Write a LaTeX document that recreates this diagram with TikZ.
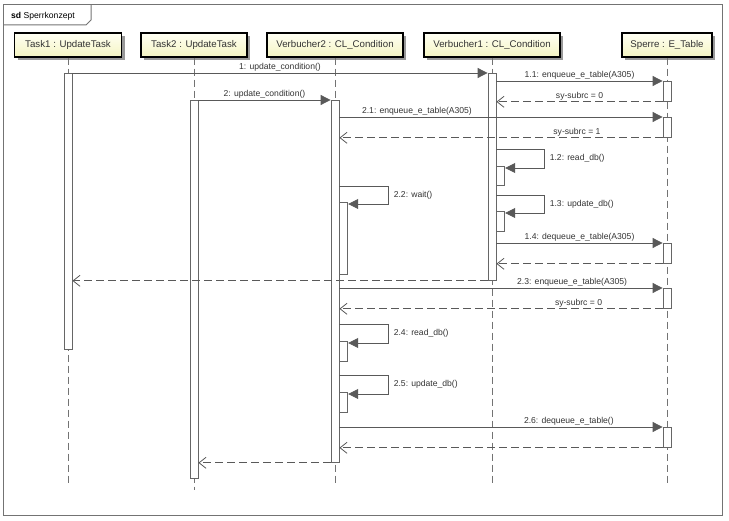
\documentclass[tikz,border=0pt]{standalone}
\usepackage{fontspec}
\setmainfont{Liberation Sans}
\usepackage{tikz}
\usetikzlibrary{arrows.meta}
\usetikzlibrary{positioning}
\usetikzlibrary{shadows}
\definecolor{headtop}{HTML}{FFFFF4}
\definecolor{headbot}{HTML}{F5F5C2}
\tikzset{msgfont/.style={font=\fontsize{8.6}{10}\selectfont, text=black!80}}

\begin{document}
\begin{tikzpicture}[x=1pt, y=-1pt,
      head/.style={draw=black, line width=1.5pt,
        top color=headtop, bottom color=headbot,
        minimum height=24pt, inner sep=0pt,
        font=\fontsize{9.7}{11}\selectfont, text=black!80,
        drop shadow={shadow xshift=3pt, shadow yshift=-3pt, fill=black!40, opacity=1}},
      lifeline/.style={draw=black!55, line width=0.9pt, dash pattern=on 7pt off 4pt},
      bar/.style={draw=black!60, fill=white, line width=0.8pt,
        minimum width=8pt, inner sep=0pt},
      call/.style={draw=black!65, line width=0.8pt,
        -{Triangle[length=10pt, width=10pt, fill=black!65]}},
      reply/.style={draw=black!65, line width=0.8pt, dash pattern=on 8pt off 4pt,
        -{Straight Barb[length=7pt, width=11pt]}},
      msg/.style={msgfont, above, inner sep=1.5pt},
      self/.style={msgfont, right, inner sep=0pt, xshift=5pt},
      frame/.style={draw=black!55, line width=1pt},
      on grid]

    \useasboundingbox (0,0) rectangle (729,521);

    % frame
    \draw[frame] (3,5) rectangle (722,515);
    \draw[frame] (3,25) -- (86,25) -- (91,20) -- (91,5);
    \node[msgfont, anchor=west, inner sep=0pt, text=black]
      (Title) at (11,16) {\textbf{sd} Sperrkonzept};

    % lifelines
    \node[head, minimum width=107pt]
      (Task1) at (68,45) {Task1 : UpdateTask};
    \node[head, minimum width=106pt]
      (Task2) [right=126pt of Task1] {Task2 : UpdateTask};
    \node[head, minimum width=136pt]
      (Verbucher2) [right=141pt of Task2] {Verbucher2 : CL\_Condition};
    \node[head, minimum width=136pt]
      (Verbucher1) [right=157pt of Verbucher2] {Verbucher1 : CL\_Condition};
    \node[head, minimum width=90pt]
      (Sperre) [right=175pt of Verbucher1] {Sperre : E\_Table};

    \coordinate (LifeEnd) at (0,483);
    \draw[lifeline] (Task1) -- (Task1 |- LifeEnd);
    \draw[lifeline] (Task2) -- ([yshift=-7pt]Task2 |- LifeEnd);
    \draw[lifeline] (Verbucher2) -- (Verbucher2 |- LifeEnd);
    \draw[lifeline] (Verbucher1) -- (Verbucher1 |- LifeEnd);
    \draw[lifeline] (Sperre) -- (Sperre |- LifeEnd);

    % activations
    \node[bar, anchor=north, minimum height=276pt] (Task1Bar) at (Task1 |- 0,73) {};
    \node[bar, anchor=north, minimum height=378pt] (Task2Bar) at (Task2 |- 0,100) {};
    \node[bar, anchor=north, minimum height=362pt] (V2Bar) at (Verbucher2 |- 0,100) {};
    \node[bar, anchor=north, minimum height=207pt] (V1Bar) at (Verbucher1 |- 0,73) {};
    \node[bar, anchor=north, minimum height=20pt] (SperreBarA) at (Sperre |- 0,81) {};
    \node[bar, anchor=north, minimum height=20pt] (SperreBarB) at (Sperre |- 0,117) {};
    \node[bar, anchor=north, minimum height=20pt] (SperreBarC) at (Sperre |- 0,243) {};
    \node[bar, anchor=north, minimum height=20pt] (SperreBarD) at (Sperre |- 0,288) {};
    \node[bar, anchor=north, minimum height=20pt] (SperreBarE) at (Sperre |- 0,427) {};
    \node[bar, anchor=north west, minimum height=19pt] (ReadV1) at (V1Bar.east |- 0,166) {};
    \node[bar, anchor=north west, minimum height=20pt] (UpdateV1) at (V1Bar.east |- 0,211) {};
    \node[bar, anchor=north west, minimum height=72pt] (WaitV2) at (V2Bar.east |- 0,202) {};
    \node[bar, anchor=north west, minimum height=20pt] (ReadV2) at (V2Bar.east |- 0,341) {};
    \node[bar, anchor=north west, minimum height=20pt] (UpdateV2) at (V2Bar.east |- 0,392) {};

    % messages
    \draw[call] (Task1Bar.east |- 0,73) -- node[msg] {1: update\_condition()} (V1Bar.west |- 0,73);
    \draw[call] (Task2Bar.east |- 0,100) -- node[msg] {2: update\_condition()} (V2Bar.west |- 0,100);
    \draw[call] (V1Bar.east |- SperreBarA.north) -- node[msg] {1.1: enqueue\_e\_table(A305)} (SperreBarA.north west);
    \draw[reply] (SperreBarA.south west) -- node[msg] {sy-subrc = 0} (V1Bar.east |- SperreBarA.south);
    \draw[call] (V2Bar.east |- SperreBarB.north) -- node[msg, pos=0.24] {2.1: enqueue\_e\_table(A305)} (SperreBarB.north west);
    \draw[reply] (SperreBarB.south west) -- node[msg, pos=0.265] {sy-subrc = 1} (V2Bar.east |- SperreBarB.south);
    \draw[call] ([yshift=17pt]ReadV1.north west) -- ++(48,0)
      |- node[self, pos=0.25] {1.2: read\_db()} ([yshift=-2pt]ReadV1.north east);
    \draw[call] ([yshift=16pt]UpdateV1.north west) -- ++(48,0)
      |- node[self, pos=0.25] {1.3: update\_db()} ([yshift=-2pt]UpdateV1.north east);
    \draw[call] ([yshift=16pt]WaitV2.north west) -- ++(49,0)
      |- node[self, pos=0.25] {2.2: wait()} ([yshift=-2pt]WaitV2.north east);
    \draw[call] (V1Bar.east |- SperreBarC.north) -- node[msg] {1.4: dequeue\_e\_table(A305)} (SperreBarC.north west);
    \draw[reply] (SperreBarC.south west) -- (V1Bar.east |- SperreBarC.south);
    \draw[reply] (V1Bar.south west) -- (Task1Bar.east |- V1Bar.south);
    \draw[call] (V2Bar.east |- SperreBarD.north) -- node[msg, pos=0.72] {2.3: enqueue\_e\_table(A305)} (SperreBarD.north west);
    \draw[reply] (SperreBarD.south west) -- node[msg, pos=0.26] {sy-subrc = 0} (V2Bar.east |- SperreBarD.south);
    \draw[call] ([yshift=17pt]ReadV2.north west) -- ++(49,0)
      |- node[self, pos=0.25] {2.4: read\_db()} ([yshift=-2pt]ReadV2.north east);
    \draw[call] ([yshift=17pt]UpdateV2.north west) -- ++(49,0)
      |- node[self, pos=0.25] {2.5: update\_db()} ([yshift=-2pt]UpdateV2.north east);
    \draw[call] (V2Bar.east |- SperreBarE.north) -- node[msg, pos=0.71] {2.6: dequeue\_e\_table()} (SperreBarE.north west);
    \draw[reply] (SperreBarE.south west) -- (V2Bar.east |- SperreBarE.south);
    \draw[reply] (V2Bar.south west) -- (Task2Bar.east |- V2Bar.south);

  \end{tikzpicture}
\end{document}
